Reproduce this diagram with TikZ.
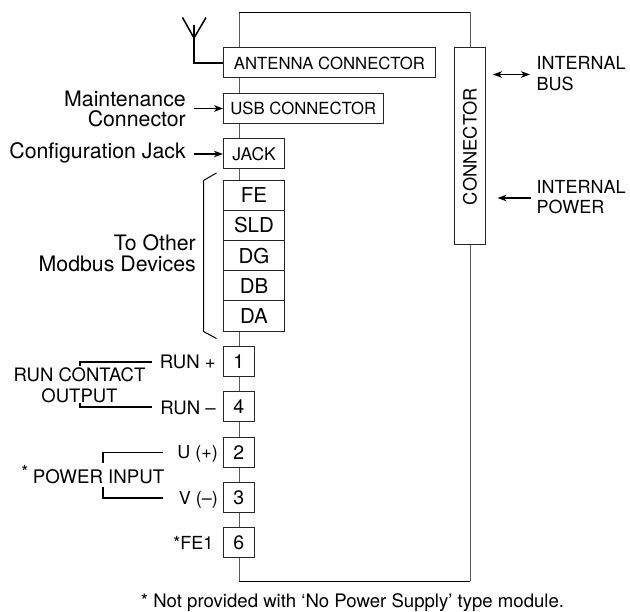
\documentclass[tikz,border=0pt]{standalone}
\usepackage{fontspec}
\setmainfont{TeX Gyre Heros}
\usetikzlibrary{arrows.meta}
\tikzset{
	boxnode/.style={draw=black!85, fill=white, line width=1pt, inner sep=0pt, font=\fontsize{#1}{#1}\selectfont},
	boxnode/.default=16.7,
	lbl/.style={inner sep=0pt, font=\fontsize{#1}{20.5}\selectfont},
	lbl/.default=18,
	thin line/.style={line width=1pt, black!65},
	heavy line/.style={line width=1.5pt},
	tip/.tip={Stealth[length=9pt, width=6.5pt, inset=2.5pt]}
}
\begin{document}
\begin{tikzpicture}[x=1pt, y=-1pt]
	%%%%% START %%%%%
	\useasboundingbox (0, 0) rectangle (630, 612);

	\coordinate (frametl) at (239, 12.5);
	\coordinate (frametr) at (470, 12.5);
	\coordinate (framebl) at (239, 581);
	\coordinate (framebr) at (470, 581);
	\draw[thin line] (framebl) -- (frametl);
	\draw[thin line] (frametr) -- (framebr);
	\draw[line width=1pt] (frametl) -- (frametr);
	\draw[line width=1pt] (framebl) -- (framebr);

	\node[boxnode, minimum width=212, minimum height=30] (antennabox) at (329.5, 63) {ANTENNA CONNECTOR};
	\node[boxnode, minimum width=159.5, minimum height=30] (usbbox) at (303.3, 108.5) {USB CONNECTOR};
	\node[boxnode=17.5, minimum width=61, minimum height=30] (jackbox) at (254, 154) {JACK};

	\node[boxnode=20.5, minimum width=61, minimum height=30.2] (febox) at (254, 195.3) {FE};
	\node[boxnode=20.5, minimum width=61, minimum height=30.2] (sldbox) at (254, 225.5) {SLD};
	\node[boxnode=20.5, minimum width=61, minimum height=30.2] (dgbox) at (254, 255.7) {DG};
	\node[boxnode=20.5, minimum width=61, minimum height=30.2] (dbbox) at (254, 285.9) {DB};
	\node[boxnode=20.5, minimum width=61, minimum height=30.2] (dabox) at (254, 316.1) {DA};

	\node[boxnode=19.5, minimum width=30.5, minimum height=30] (termone) at (238.8, 361.5) {1};
	\node[boxnode=19.5, minimum width=30.5, minimum height=30] (termfour) at (238.8, 407) {4};
	\node[boxnode=19.5, minimum width=30.5, minimum height=30] (termtwo) at (238.8, 452.3) {2};
	\node[boxnode=19.5, minimum width=30.5, minimum height=30] (termthree) at (238.8, 497.8) {3};
	\node[boxnode=19.5, minimum width=30.5, minimum height=30] (termsix) at (238.8, 543) {6};

	\node[boxnode=18.3, minimum width=30.5, minimum height=197] (busbox) at (470, 146.5) {\rotatebox{90}{CONNECTOR}};

	\coordinate (antennatip) at (194, 38);
	\coordinate (antennaleft) at (182.5, 17.5);
	\coordinate (antennaright) at (206, 17.5);
	\coordinate (antennamid) at (194, 25);
	\draw[heavy line] (antennaleft) -- (antennatip) -- (antennaright);
	\draw[heavy line] (antennamid) |- (antennabox.west);

	\node[lbl=21.3, align=right, anchor=east] (maintlabel) at (186, 109) {Maintenance\\Connector};
	\coordinate (maintstart) at (194, 108.5);
	\draw[heavy line, -tip] (maintstart) -- (usbbox.west);

	\node[lbl=21.3, anchor=east] (configlabel) at (186, 153) {Configuration Jack};
	\coordinate (configstart) at (194, 154);
	\draw[heavy line, -tip] (configstart) -- (jackbox.west);

	\coordinate (bracetop) at (216.5, 173);
	\coordinate (bracetopbend) at (203.5, 180.5);
	\coordinate (bracebotbend) at (203.5, 331.5);
	\coordinate (bracebot) at (216.5, 338.5);
	\draw[line width=1pt] (bracetop) -- (bracetopbend) -- (bracebotbend) -- (bracebot);
	\node[lbl=21.3, align=right, anchor=east] (otherlabel) at (196, 253) {To Other\hspace{6pt}\\Modbus Devices};

	\node[lbl=18.6, anchor=east] (runplus) at (216, 362) {RUN +};
	\node[lbl=18.6, anchor=east] (runminus) at (216, 408) {RUN --};
	\node[lbl=18.5, align=center] (runlabel) at (79.5, 385.5) {RUN CONTACT\\OUTPUT};
	\coordinate (runplusend) at (152, 362);
	\coordinate (runplusdrop) at (80, 366);
	\coordinate (runminusend) at (152, 407);
	\coordinate (runminusdrop) at (80, 403);
	\draw[heavy line] (runplusend) -| (runplusdrop);
	\draw[heavy line] (runminusend) -| (runminusdrop);

	\node[lbl, anchor=east] (ulabel) at (218, 454) {U (+)};
	\node[lbl, anchor=east] (vlabel) at (218, 500) {V (--)};
	\node[lbl=18.7, anchor=east] (powerlabel) at (164.5, 477) {POWER INPUT};
	\node[lbl, anchor=center] (powerstar) at (25, 472) {*};
	\coordinate (uend) at (163, 452.5);
	\coordinate (udrop) at (103, 463);
	\coordinate (vend) at (163, 498);
	\coordinate (vdrop) at (103, 487);
	\draw[heavy line] (uend) -| (udrop);
	\draw[heavy line] (vend) -| (vdrop);

	\node[lbl, anchor=east] (felabel) at (213.5, 543) {*FE1};

	\node[lbl, align=left, anchor=west] (buslabel) at (536.5, 73.5) {INTERNAL\\BUS};
	\node[lbl, align=left, anchor=west] (powlabel) at (536.5, 197) {INTERNAL\\POWER};
	\coordinate (busend) at (530, 74.5);
	\coordinate (busstart) at (493, 74.5);
	\coordinate (powstart) at (531, 198);
	\coordinate (powend) at (497.5, 198);
	\draw[line width=1pt, tip-tip] (busstart) -- (busend);
	\draw[line width=1.2pt, -tip] (powstart) -- (powend);

	\node[lbl=18.6, anchor=center] (notelabel) at (352.5, 602.5) {* Not provided with ‘No Power Supply’ type module.};
	%%%%% END %%%%%
\end{tikzpicture}
\end{document}
